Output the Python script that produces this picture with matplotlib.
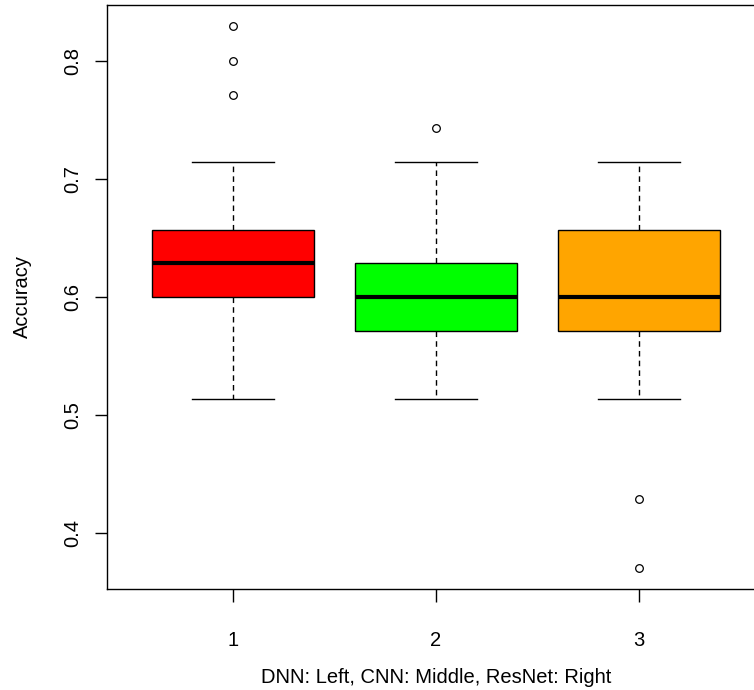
import matplotlib
matplotlib.use("Agg")
import matplotlib.pyplot as plt

# box statistics (values are multiples of 1/35)
positions = [1, 2, 3]
whislo = [0.514, 0.514, 0.514]
q1 = [0.600, 0.571, 0.571]
med = [0.629, 0.600, 0.600]
q3 = [0.657, 0.629, 0.657]
whishi = [0.714, 0.714, 0.714]
fliers = [[0.829, 0.800, 0.771], [0.743], [0.429, 0.371]]
colors = ["#ff0000", "#00ff00", "#ffa500"]

plt.rcParams["font.family"] = ["Liberation Sans", "DejaVu Sans"]

fig = plt.figure(figsize=(7.54, 6.9), dpi=100)
ax = fig.add_axes([0.1419, 0.1464, 0.8727, 0.8464])

stats = []
for i in range(len(positions)):
    stats.append(dict(whislo=whislo[i], q1=q1[i], med=med[i], q3=q3[i],
                      whishi=whishi[i], fliers=fliers[i]))

bp = ax.bxp(stats, positions=positions, widths=0.8, patch_artist=True,
            boxprops=dict(edgecolor="black", linewidth=1),
            medianprops=dict(color="black", linewidth=3, solid_capstyle="butt"),
            whiskerprops=dict(color="black", linestyle=(0, (4, 3)), linewidth=1),
            capprops=dict(color="black", linewidth=1),
            capwidths=0.4,
            flierprops=dict(marker="o", markerfacecolor="none",
                            markeredgecolor="black", markersize=5.5,
                            markeredgewidth=0.9))
for patch, c in zip(bp["boxes"], colors):
    patch.set_facecolor(c)

ax.set_xlim(0.38, 3.62)
ax.set_ylim(0.353, 0.847)
ax.set_xticks(positions)
ax.set_xticklabels(["1", "2", "3"])
ax.set_yticks([0.4, 0.5, 0.6, 0.7, 0.8])
ax.set_yticklabels(["0.4", "0.5", "0.6", "0.7", "0.8"], rotation=90, va="center")
ax.tick_params(direction="out", length=9, width=1, labelsize=14.5)
ax.tick_params(axis="x", pad=21)
ax.tick_params(axis="y", pad=9)
for s in ax.spines.values():
    s.set_linewidth(1)

ax.set_ylabel("Accuracy", fontsize=14.5, labelpad=22)
ax.set_xlabel("DNN: Left, CNN: Middle, ResNet: Right", fontsize=14.5, labelpad=13)

fig.savefig("out.png", dpi=100)
